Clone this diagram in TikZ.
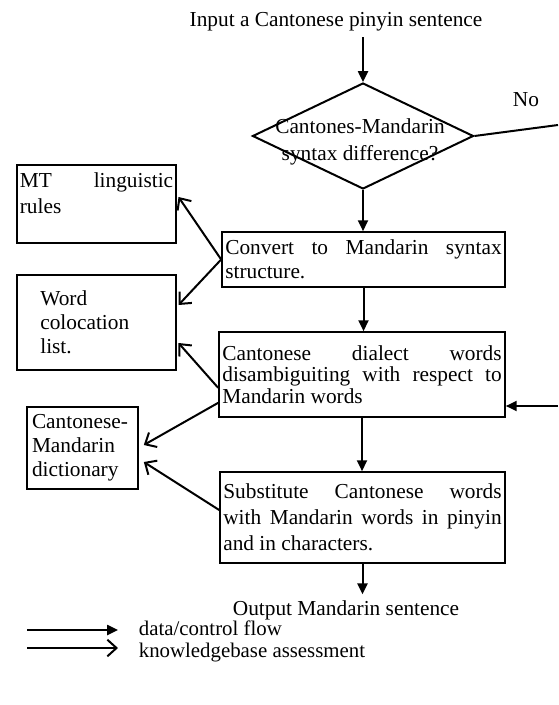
\documentclass[tikz,border=0pt]{standalone}
\usepackage{fontspec}
\setmainfont{Liberation Serif}
\usetikzlibrary{arrows.meta,shapes.geometric}
\hyphenpenalty=10000
\tolerance=10000
\tikzset{
    flow/.style={line width=1.2pt, -{Triangle[length=6.5pt,width=6pt]}},
    kbase/.style={line width=1.2pt, -{Straight Barb[length=5.5pt,width=10pt,line width=1.2pt]}},
    procbox/.style={draw, line width=1pt, rectangle, align=justify, inner xsep=2pt, inner ysep=2pt},
    kbox/.style={draw, line width=1pt, rectangle},
    decision/.style={draw, line width=1.2pt, diamond, inner sep=0pt,
        minimum width=132.6pt, minimum height=63.6pt},
    legendtext/.style={anchor=base west, font=\fontsize{12.5}{14}\selectfont}
}
\begin{document}
\begin{tikzpicture}[x=0.6pt, y=-0.6pt, font=\fontsize{12.8}{14.4}\selectfont]
    \useasboundingbox (0,0) rectangle (558,705);

    % main flow
    \node[anchor=base] (title) at (336,27) {Input a Cantonese pinyin sentence};
    \node[decision, label={[xshift=-1.8pt, yshift=-3.6pt, align=center,
        font=\fontsize{12.8}{16}\selectfont]center:Cantones-Mandarin\\syntax difference?}] (dec) at (363,136) {};
    \node[anchor=base] (no) at (526,107) {No};
    \node[procbox, text width=165.8pt, minimum height=33pt] (conv) at (363.5,259.5)
        {Convert to Mandarin syntax\linebreak structure.};
    \node[procbox, text width=167.6pt, minimum height=51pt,
        font=\fontsize{12.8}{13}\selectfont] (dial) at (362,374.5)
        {Cantonese dialect words\linebreak disambiguiting with respect to\linebreak Mandarin words};
    \node[procbox, text width=167pt, minimum height=54.6pt,
        font=\fontsize{12.8}{15.6}\selectfont] (subst) at (362.5,517.5)
        {Substitute Cantonese words\linebreak with Mandarin words in pinyin\linebreak and in characters.};
    \node[anchor=base] (out) at (346,615) {Output Mandarin sentence};

    % knowledge bases
    \node[kbox, align=justify, text width=92pt, inner xsep=1.7pt, inner ysep=4.5pt,
        text depth=29pt, font=\fontsize{12.8}{15.6}\selectfont] (mt) at (96.5,204)
        {MT linguistic\linebreak rules};
    \node[kbox, align=left, text width=67.4pt, inner xsep=14pt, minimum height=57pt] (word) at (96.5,322.5)
        {Word\\colocation\\list.};
    \node[kbox, align=left, text width=60.6pt, inner xsep=3pt, minimum height=49.2pt] (dict) at (82.5,448)
        {Cantonese-\\Mandarin\\dictionary};

    \coordinate (noout) at (558,125);
    \coordinate (noin) at (558,406);

    \draw[flow] (title.south -| dec.north) -- (dec.north);
    \foreach \a/\b in {dec/conv,conv/dial,dial/subst,subst/out}
        {\draw[flow] (\a.south) -- (\a.south |- \b.north);}
    \draw[line width=1.2pt] (dec.east) -- (noout);
    \draw[flow] (noin) -- (noin -| dial.east);

    \draw[kbase] (conv.west) -- ([xshift=1pt,yshift=4.2pt]mt.east);
    \draw[kbase] (conv.west) -- ([xshift=1pt,yshift=10.5pt]word.east);
    \draw[kbase] ([yshift=-8pt]dial.west) -- ([xshift=1pt,yshift=-12.3pt]word.east);
    \draw[kbase] ([yshift=-17pt]dial.west) -- ([xshift=3pt,yshift=1.8pt]dict.east);
    \draw[kbase] ([yshift=4.5pt]subst.west) -- ([xshift=3pt,yshift=-8.4pt]dict.east);

    % legend
    \coordinate (flowa) at (27,630);
    \coordinate (flowb) at (118,630);
    \coordinate (kba) at (27,648);
    \coordinate (kbb) at (118,648);
    \draw[flow] (flowa) -- (flowb);
    \draw[kbase] (kba) -- (kbb);
    \node[legendtext] (flowtext) at (133,635) {data/control flow};
    \node[legendtext] (kbtext) at (133,657) {knowledgebase assessment};
\end{tikzpicture}
\end{document}
